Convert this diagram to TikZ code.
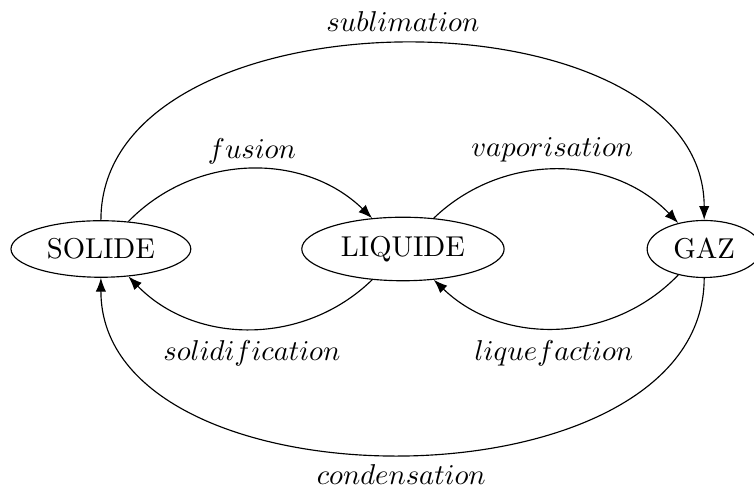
\documentclass[tikz,border=0pt]{standalone}
\usepackage{tikz}
\usetikzlibrary{shapes.geometric, arrows.meta}
\tikzset{
	etat/.style={ellipse, draw=black},
	trans/.style={-{Latex}},
	lbl/.style={anchor=base},
}

\begin{document}
\begin{tikzpicture}
\useasboundingbox (-1.236,-2.93) rectangle (8.0,3.05);
\node[etat] (sol) at (0,0) {SOLIDE};
\node[etat] (liq) at (3.70,0) {LIQUIDE};
\node[etat] (gaz) at (7.39,0) {GAZ};
% transitions
\draw[trans] (sol) to[bend left=45] (liq);
\draw[trans] (liq) to[bend left=45] (gaz);
\draw[trans] (liq) to[bend left=45] (sol);
\draw[trans] (gaz) to[bend left=45] (liq);
\draw[trans] (sol) to[bend left=90] (gaz);
\draw[trans] (gaz) to[bend left=90] (sol);
% labels
\node[lbl] (lsub) at (3.70,2.66) {$sublimation$};
\node[lbl] (lfus) at (1.85,1.11) {$fusion$};
\node[lbl] (lvap) at (5.53,1.13) {$vaporisation$};
\node[lbl] (lsol) at (1.85,-1.37) {$solidification$};
\node[lbl] (lliq) at (5.55,-1.37) {$liquefaction$};
\node[lbl] (lcon) at (3.68,-2.89) {$condensation$};
\end{tikzpicture}
\end{document}
